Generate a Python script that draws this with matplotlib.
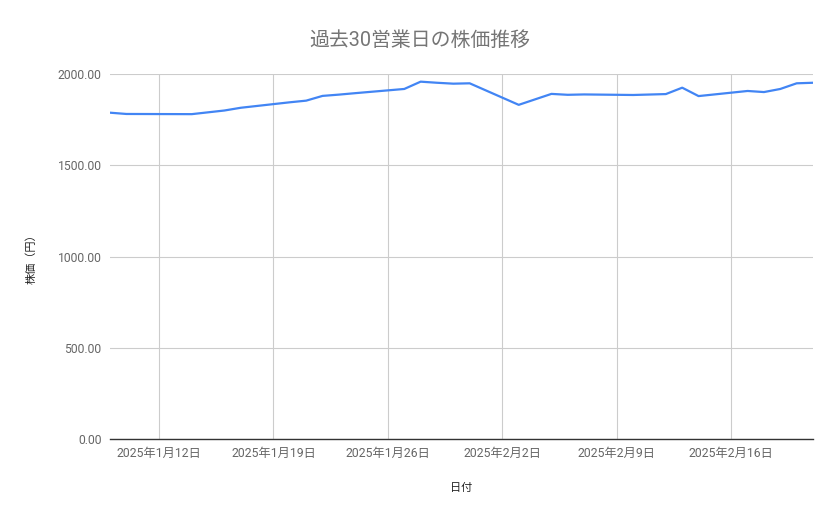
import matplotlib
matplotlib.use("Agg")
import matplotlib.pyplot as plt
import matplotlib.dates as mdates
import numpy as np
import pandas as pd

plt.rcParams['font.family'] = ['Roboto', 'Noto Sans CJK JP', 'DejaVu Sans']

# 30営業日分の日付と株価
dates = pd.to_datetime([
    '2025-01-09', '2025-01-10', '2025-01-14', '2025-01-15', '2025-01-16',
    '2025-01-17', '2025-01-20', '2025-01-21', '2025-01-22', '2025-01-23',
    '2025-01-24', '2025-01-27', '2025-01-28', '2025-01-29', '2025-01-30',
    '2025-01-31', '2025-02-03', '2025-02-04', '2025-02-05', '2025-02-06',
    '2025-02-07', '2025-02-10', '2025-02-12', '2025-02-13', '2025-02-14',
    '2025-02-17', '2025-02-18', '2025-02-19', '2025-02-20', '2025-02-21',
])
prices = [
    1788, 1781, 1780, 1790, 1800,
    1815, 1845, 1854, 1880, 1887,
    1895, 1918, 1958, 1952, 1947,
    1949, 1831, 1861, 1891, 1886,
    1888, 1885, 1890, 1925, 1879,
    1907, 1901, 1918, 1949, 1952,
]

yticks = [0, 500, 1000, 1500, 2000]
xticks = pd.to_datetime(['2025-01-12', '2025-01-19', '2025-01-26',
                         '2025-02-02', '2025-02-09', '2025-02-16'])
xtick_labels = ['2025年1月12日', '2025年1月19日', '2025年1月26日',
                '2025年2月2日', '2025年2月9日', '2025年2月16日']

W, H = 839, 519
fig = plt.figure(figsize=(W / 100, H / 100), dpi=100)
ax = fig.add_axes([110 / W, 1 - 439 / H, (813 - 110) / W, (439 - 74) / H])

ax.plot(dates, prices, color='#4285F4', linewidth=1.6, solid_joinstyle='round')

ax.set_xlim(dates[0], dates[-1])
ax.set_ylim(0, 2000)
ax.set_yticks(yticks)
ax.set_yticklabels([f'{v:.2f}' for v in yticks])
ax.set_xticks(xticks)
ax.set_xticklabels(xtick_labels)

ax.grid(True, color='#cccccc', linewidth=0.8)
ax.set_axisbelow(True)
for s in ['top', 'right', 'left']:
    ax.spines[s].set_visible(False)
ax.spines['bottom'].set_color('#333333')
ax.spines['bottom'].set_linewidth(1.0)
ax.spines['bottom'].set_zorder(3)

ax.tick_params(axis='y', length=0, pad=6, labelsize=8.7, labelcolor='#666666')
ax.tick_params(axis='x', length=0, pad=6, labelsize=8.8, labelcolor='#666666')

ax.set_xlabel('日付', fontsize=8, color='#222222', labelpad=16)
ax.set_ylabel('株価（円）', fontsize=8, color='#222222', labelpad=15)

fig.text(0.5, 1 - 40 / H, '過去30営業日の株価推移', ha='center', va='center',
         fontsize=14.3, color='#757575')

fig.savefig('out.png', dpi=100, facecolor='white')
